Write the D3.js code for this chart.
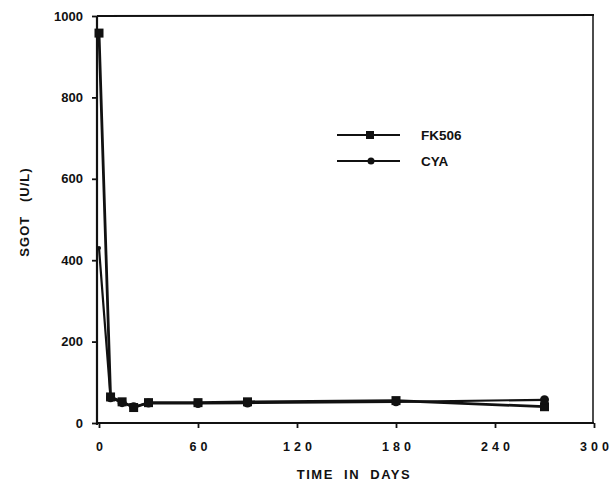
<!DOCTYPE html>
<html><head><meta charset="utf-8">
<script src="https://cdn.jsdelivr.net/npm/d3@7"></script>
<style>body{margin:0;background:#fff}svg{display:block}text{font-family:"Liberation Sans",Arial,sans-serif;font-weight:bold;fill:#111}</style>
</head><body><svg id="c" width="616" height="485"></svg>
<script>
const days = [0, 7, 14, 21, 30, 60, 90, 180, 270];
const fk506 = [958, 64, 52, 38, 50, 50, 52, 55, 40];
const cyaDays = [0, 7, 14, 21, 30, 60, 90, 180, 270];
const cya = [430, 62, 50, 40, 49, 48, 49, 52, 57];
const xTicks = [0, 60, 120, 180, 240, 300];
const xTickLabels = ["0", "60", "120", "180", "240", "300"];
const yTicks = [0, 200, 400, 600, 800, 1000];
const seriesNames = ["FK506", "CYA"];

const svg = d3.select("#c");
const x = d3.scaleLinear().domain([0, 300]).range([99, 594]);
const y = d3.scaleLinear().domain([0, 1000]).range([423, 16]);
const ink = "#111";

// frame top and right
svg.append("line").attr("x1", 97).attr("x2", x(300)).attr("y1", y(1000)).attr("y2", y(1000)-1).attr("stroke", ink).attr("stroke-width", 2);
svg.append("line").attr("x1", x(300)-1).attr("x2", x(300)-1).attr("y1", y(1000)-1).attr("y2", y(0)).attr("stroke", ink).attr("stroke-width", 1.5);

const xAxis = svg.append("g").attr("transform", `translate(0,${y(0)})`)
  .call(d3.axisBottom(x).tickValues(xTicks).tickFormat((d,i)=>xTickLabels[i]).tickSize(5).tickPadding(14));
xAxis.select(".domain").attr("stroke", ink).attr("stroke-width", 2.2).attr("d", `M97,0H${x(300)}`);
xAxis.selectAll(".tick line").attr("stroke", ink).attr("stroke-width", 1.8);
xAxis.selectAll(".tick text").attr("font-size", 12.5).attr("letter-spacing", "4px").attr("fill", ink).attr("dx", "2px");

const yAxis = svg.append("g").attr("transform", `translate(97,0)`)
  .call(d3.axisLeft(y).tickValues(yTicks).tickSize(5).tickPadding(9).tickFormat(d3.format("d")));
yAxis.select(".domain").attr("stroke", ink).attr("stroke-width", 2.2).attr("d", `M0,${y(1000)}V${y(0)+2}`);
yAxis.selectAll(".tick line").attr("stroke", ink).attr("stroke-width", 1.8);
yAxis.selectAll(".tick text").attr("font-size", 13).attr("fill", ink);

// axis titles
svg.append("text").attr("transform", "translate(29,212) rotate(-90)").attr("text-anchor", "middle")
  .attr("font-size", 13).attr("letter-spacing", "1px").attr("xml:space", "preserve").style("white-space", "pre").text("SGOT   (U/L)");
svg.append("text").attr("x", 354).attr("y", 479).attr("text-anchor", "middle")
  .attr("font-size", 13).attr("letter-spacing", "1.5px").style("white-space", "pre").text("TIME  IN  DAYS");

const line = d3.line().x(d => x(d[0])).y(d => y(d[1]));
const fkData = days.map((d,i)=>[d, fk506[i]]);
const cyData = cyaDays.map((d,i)=>[d, cya[i]]);

svg.append("path").datum(cyData).attr("d", line).attr("fill", "none").attr("stroke", ink).attr("stroke-width", 2.2);
svg.append("path").datum(fkData).attr("d", line).attr("fill", "none").attr("stroke", ink).attr("stroke-width", 2.8);

svg.selectAll(".fk").data(fkData).join("rect").attr("class", "fk")
  .attr("x", d => x(d[0]) - 4.5).attr("y", d => y(d[1]) - 4.5).attr("width", 9).attr("height", 9).attr("fill", ink);
svg.selectAll(".cy").data(cyData).join("circle").attr("class", "cy")
  .attr("cx", d => x(d[0])).attr("cy", d => y(d[1])).attr("r", d => d[0] === 0 ? 2 : 4.5).attr("fill", ink);

// legend
const legY = [135, 161];
seriesNames.forEach((n, i) => {
  svg.append("line").attr("x1", 337).attr("x2", 400).attr("y1", legY[i]).attr("y2", legY[i]).attr("stroke", ink).attr("stroke-width", 2.2);
  if (i === 0) svg.append("rect").attr("x", 366).attr("y", legY[i]-4).attr("width", 8).attr("height", 8).attr("fill", ink);
  else svg.append("circle").attr("cx", 371).attr("cy", legY[i]).attr("r", 3.5).attr("fill", ink);
  svg.append("text").attr("x", 421).attr("y", legY[i] + 5).attr("font-size", 13.5).text(n);
});
</script></body></html>
